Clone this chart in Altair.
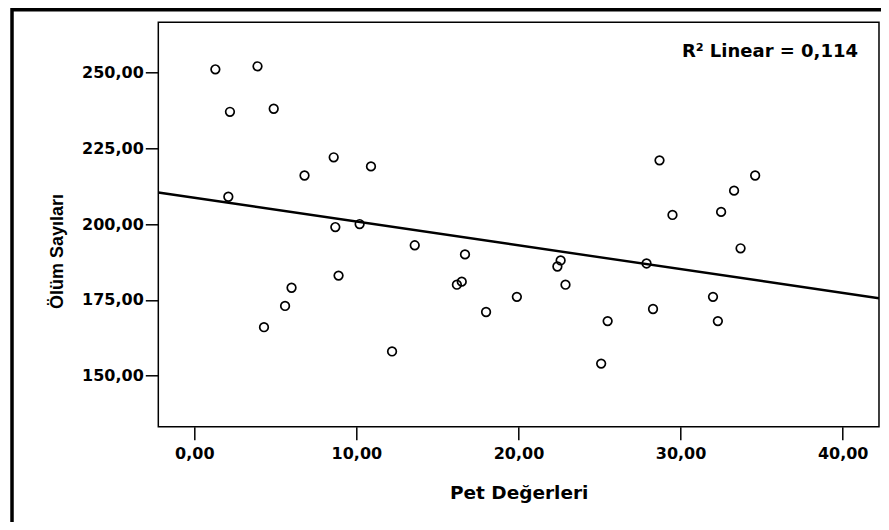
import altair as alt
import pandas as pd

# Data
pet_values = [1.3, 3.9, 2.2, 4.9, 8.6, 10.9, 6.8, 2.1, 28.7, 34.6, 33.3, 8.7,
              10.2, 13.6, 16.7, 8.9, 6.0, 5.6, 4.3, 12.2, 16.5, 16.2, 18.0, 19.9,
              29.5, 32.5, 33.7, 22.6, 22.4, 27.9, 22.9, 32.0, 28.3, 25.5, 32.3, 25.1]
death_counts = [251, 252, 237, 238, 222, 219, 216, 209, 221, 216, 211, 199,
                200, 193, 190, 183, 179, 173, 166, 158, 181, 180, 171, 176,
                203, 204, 192, 188, 186, 187, 180, 176, 172, 168, 168, 154]
x_ticks = [0, 10, 20, 30, 40]
y_ticks = [150, 175, 200, 225, 250]
x_domain = [-2.22, 42.24]
y_domain = [133.2, 266.5]
x_title = "Pet Değerleri"
y_title = "Ölüm Sayıları"
r2_label = ["R² Linear = 0,114"]

df = pd.DataFrame({"pet": pet_values, "olum": death_counts})
label_df = pd.DataFrame({"label": r2_label})

W, H = 720.7, 404.4
label_expr = "replace(format(datum.value, '.2f'), '.', ',')"

xs = alt.Scale(domain=x_domain, nice=False, zero=False)
ys = alt.Scale(domain=y_domain, nice=False, zero=False)

x_axis = alt.Axis(values=x_ticks, labelExpr=label_expr, title=x_title,
                  labelPadding=6,
                  titleFont="DejaVu Sans", titleFontSize=18.5, titleFontWeight="bold",
                  titlePadding=22)
y_axis = alt.Axis(values=y_ticks, labelExpr=label_expr, title=y_title,
                  labelPadding=2,
                  titleFont="Liberation Sans", titleFontSize=18, titleFontWeight="bold",
                  titleAngle=270, titleX=-101, titleY=228.7, titleAlign="center",
                  titleBaseline="middle")

base = alt.Chart(df)

points = base.mark_point(shape="circle", filled=False, size=74, color="black",
                         strokeWidth=1.7, opacity=1).encode(
    x=alt.X("pet:Q", scale=xs, axis=x_axis),
    y=alt.Y("olum:Q", scale=ys, axis=y_axis),
)

fit = base.transform_regression("pet", "olum", extent=x_domain).mark_line(
    color="black", strokeWidth=2.4, clip=True
).encode(
    x=alt.X("pet:Q", scale=xs),
    y=alt.Y("olum:Q", scale=ys),
)

r2 = alt.Chart(label_df).mark_text(
    align="right", baseline="alphabetic", font="DejaVu Sans", fontSize=18,
    fontWeight="bold", color="black"
).encode(text="label:N", x=alt.value(699.7), y=alt.value(34.4))

frame_top = alt.Chart(label_df).mark_rule(color="black", strokeWidth=3.5).encode(
    x=alt.value(-146.3), x2=alt.value(740), y=alt.value(-12.6)
)
frame_left = alt.Chart(label_df).mark_rule(color="black", strokeWidth=3.5).encode(
    x=alt.value(-146.3), y=alt.value(-14.3), y2=alt.value(520)
)

chart = alt.layer(fit, points, r2, frame_top, frame_left).properties(
    width=W, height=H,
    autosize=alt.AutoSizeParams(type="none"),
    padding={"left": 150.3, "top": 14.3, "right": 2, "bottom": 95},
    background="white",
).configure_view(
    stroke="black", strokeWidth=1.5
).configure_axis(
    grid=False, domain=False,
    ticks=True, tickColor="black", tickWidth=1.5, tickSize=13,
    labelFont="DejaVu Sans", labelFontSize=16, labelFontWeight="bold",
    labelColor="black", titleColor="black",
)

chart.save("out.html", embed_options={"renderer": "svg", "actions": False})
